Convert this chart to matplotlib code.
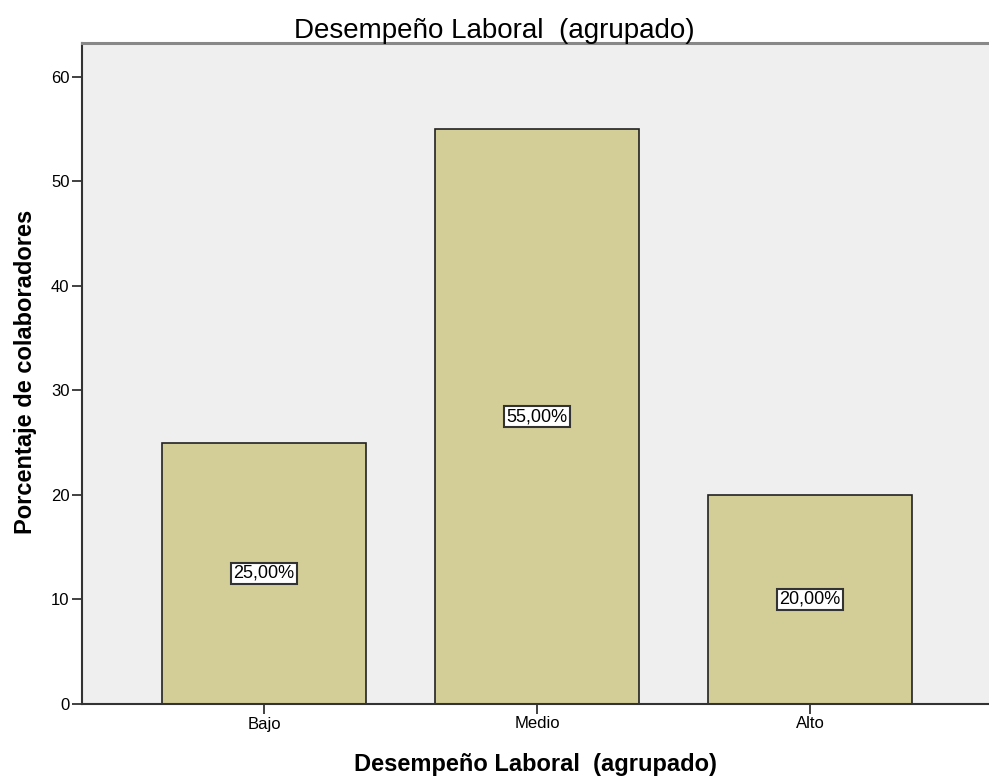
import matplotlib.pyplot as plt

categorias = ["Bajo", "Medio", "Alto"]
porcentajes = [25.0, 55.0, 20.0]
yticks = [0, 10, 20, 30, 40, 50, 60]

plt.rcParams["font.family"] = ["Liberation Sans", "DejaVu Sans"]

fig = plt.figure(figsize=(9.89, 7.76), dpi=100)
ax = fig.add_axes([82 / 989, 1 - 704 / 776, 907 / 989, 661 / 776])
ax.set_facecolor("#efefef")

x = list(range(len(categorias)))
ax.bar(x, porcentajes, width=0.75, color="#d3ce97", edgecolor="#222222", linewidth=1.2, zorder=2)

# etiquetas de porcentaje en el centro de cada barra
for xi, v in zip(x, porcentajes):
    ax.text(xi, v / 2, f"{v:.2f}%".replace(".", ","), ha="center", va="center", fontsize=13,
            bbox=dict(boxstyle="square,pad=0.12", facecolor="white", edgecolor="#333333", linewidth=1.5),
            zorder=3)

ax.set_xlim(-0.667, 2.656)
ax.set_ylim(0, 63.25)
ax.set_xticks(x)
ax.set_xticklabels(categorias)
ax.set_yticks(yticks)
ax.tick_params(axis="both", labelsize=12, length=7, width=1.3, color="#333333", pad=2)

ax.spines["right"].set_visible(False)
ax.spines["top"].set_color("#888888")
ax.spines["top"].set_linewidth(2.2)
for s in ["left", "bottom"]:
    ax.spines[s].set_color("#333333")
    ax.spines[s].set_linewidth(1.5)

# titulo centrado en la figura
fig.text(0.5, 1 - 38 / 776, "Desempeño Laboral  (agrupado)", ha="center", va="baseline", fontsize=20)

ax.set_xlabel("Desempeño Laboral  (agrupado)", fontsize=17, fontweight="bold", va="baseline")
ax.xaxis.set_label_coords(0.5, -0.1014)
ax.set_ylabel("Porcentaje de colaboradores", fontsize=17, fontweight="bold")
ax.yaxis.set_label_coords(-0.05, 0.503)

fig.savefig("out.png", dpi=100)
